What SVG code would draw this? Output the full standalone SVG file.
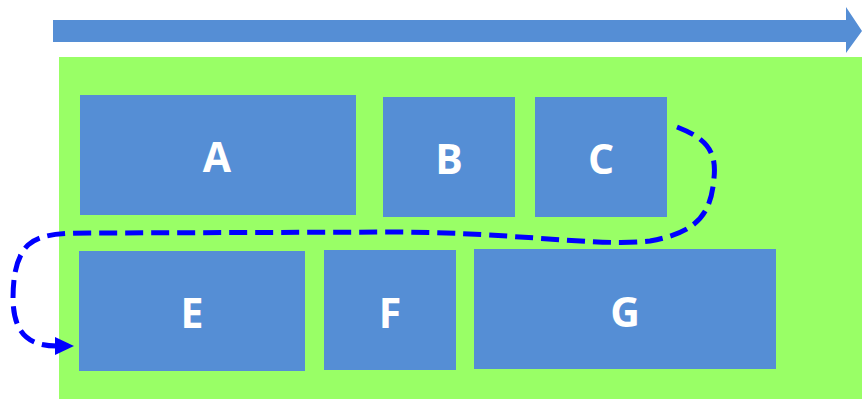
<svg xmlns="http://www.w3.org/2000/svg" width="862" height="399" viewBox="0 0 862 399">
<style>
.box{fill:#558ED5}
.lbl{fill:#FFFFFF;font-family:"Open Sans","Liberation Sans",sans-serif;font-weight:bold;font-size:41px;text-anchor:middle}
.flow{fill:none;stroke:#0000FF;stroke-width:5;stroke-dasharray:18 8}
</style>
<defs>
<marker id="ah" markerUnits="userSpaceOnUse" markerWidth="20" markerHeight="18" refX="2" refY="9" orient="auto">
<path d="M0,0 L19,9 L0,18 Z" fill="#0000FF"/>
</marker>
</defs>
<rect id="background" x="59" y="57" width="803" height="342" fill="#99FF66"/>
<g id="timeline">
<path d="M53,20 H846 V7 L862,31 L846,53 V42 H53 Z" fill="#558ED5"/>
</g>
<g id="A"><rect class="box" x="80" y="95" width="276" height="120"/><text class="lbl" x="217" y="172">A</text></g>
<g id="B"><rect class="box" x="383" y="97" width="132" height="120"/><text class="lbl" x="449" y="174">B</text></g>
<g id="C"><rect class="box" x="535" y="97" width="132" height="120"/><text class="lbl" x="601" y="174">C</text></g>
<g id="E"><rect class="box" x="79" y="251" width="226" height="120"/><text class="lbl" x="192" y="328">E</text></g>
<g id="F"><rect class="box" x="324" y="250" width="132" height="120"/><text class="lbl" x="390" y="328">F</text></g>
<g id="G"><rect class="box" x="474" y="249" width="302" height="120"/><text class="lbl" x="625" y="327">G</text></g>
<g id="connectors">
<path class="flow" marker-end="url(#ah)" d="M677,127 C705,138 717,150 714,178 C711,212 700,232 650,241 C600,247 520,233 400,232 L90,233 C60,233 40,234 28,245 C15,258 13,280 13,300 C14,335 30,346 57,346"/>
</g>
</svg>
